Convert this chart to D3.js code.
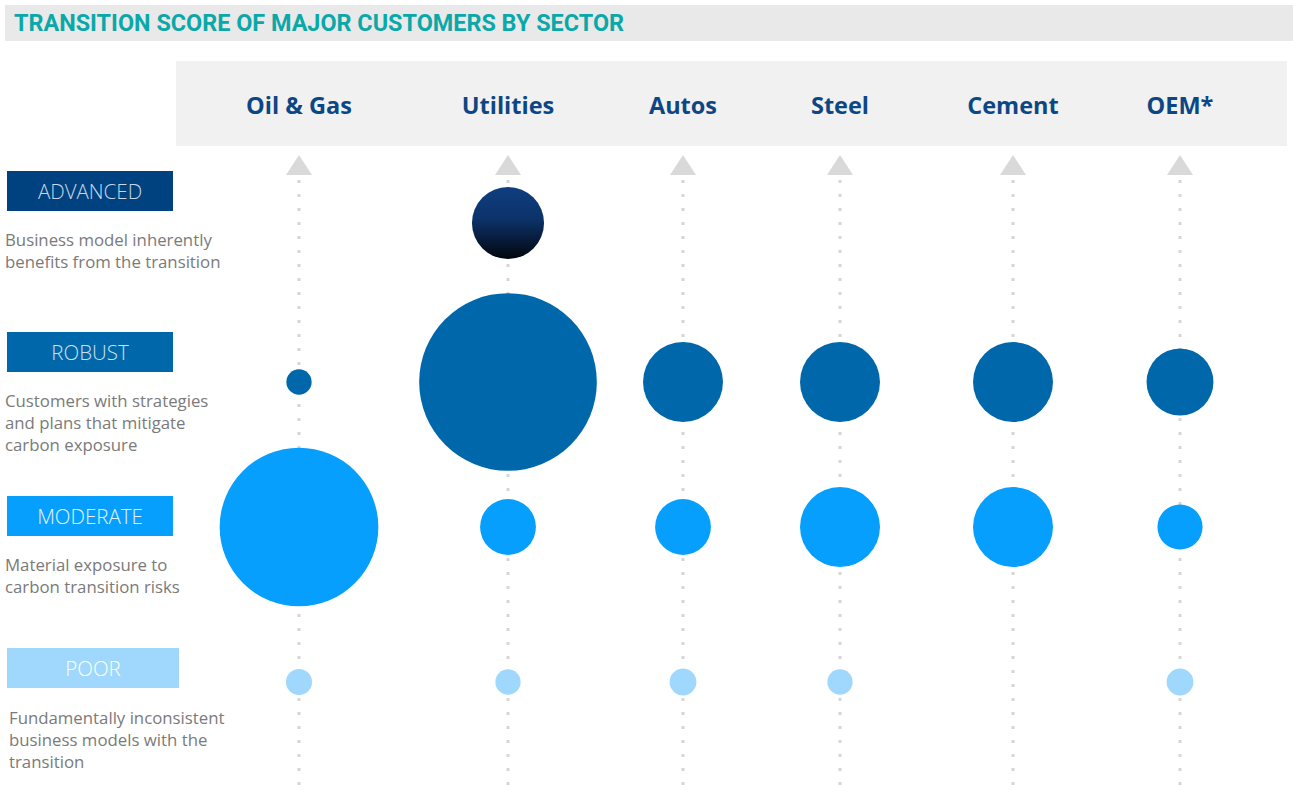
<!DOCTYPE html>
<html>
<head>
<meta charset="utf-8">
<script src="https://cdn.jsdelivr.net/npm/d3@7"></script>
<style>
  html, body { margin: 0; padding: 0; background: #ffffff; }
  svg { display: block; }
</style>
</head>
<body>
<svg id="chart" width="1293" height="791"></svg>
<script>
// ---------------- DATA ----------------
const title = "TRANSITION SCORE OF MAJOR CUSTOMERS BY SECTOR";
const sectors = ["Oil & Gas", "Utilities", "Autos", "Steel", "Cement", "OEM*"];
const levels = ["ADVANCED", "ROBUST", "MODERATE", "POOR"];
const levelDescriptions = [
  ["Business model inherently", "benefits from the transition"],
  ["Customers with strategies", "and plans that mitigate", "carbon exposure"],
  ["Material exposure to", "carbon transition risks"],
  ["Fundamentally inconsistent", "business models with the", "transition"]
];
// relative bubble weight per sector, one array per level (0 = no bubble)
const advancedValues = [0, 13, 0, 0, 0, 0];
const robustValues   = [1.6, 79, 16, 16, 16, 11.2];
const moderateValues = [63, 7.8, 7.8, 16, 16, 5.1];
const poorValues     = [1.7, 1.6, 1.8, 1.6, 0, 1.8];

// ---------------- LAYOUT / STYLE ----------------
const W = 1293, H = 791;
const svg = d3.select("#chart");
const levelFill = {
  ROBUST: "#0067ab",
  MODERATE: "#069ffd",
  POOR: "#a0d8fd"
};
const boxFill = ["#00427f", "#0067ab", "#069ffd", "#a0d8fd"];
const boxText = ["#c9d6e4", "#cfe1f0", "#e4f4ff", "#ffffff"];

const x = d3.scaleOrdinal().domain(sectors).range([299, 508, 683, 840, 1013, 1180]);
const y = d3.scaleOrdinal().domain(levels).range([223, 382, 527, 682]);
const r = d3.scaleSqrt().domain([0, 80]).range([0, 89.4]);

const defs = svg.append("defs");
const grad = defs.append("linearGradient").attr("id", "advGrad")
  .attr("x1", 0).attr("y1", 0).attr("x2", 0).attr("y2", 1);
grad.append("stop").attr("offset", "0%").attr("stop-color", "#0f3f80");
grad.append("stop").attr("offset", "45%").attr("stop-color", "#0c3269");
grad.append("stop").attr("offset", "100%").attr("stop-color", "#02060c");

// title band
svg.append("rect").attr("x", 5).attr("y", 5).attr("width", W - 5).attr("height", 36).attr("fill", "#e9e9e9");
svg.append("text").attr("x", 14).attr("y", 31)
  .attr("font-family", "Roboto, 'Open Sans', sans-serif").attr("font-weight", 700)
  .attr("font-size", 23.4).attr("fill", "#0aa8a8").text(title);

// header band
svg.append("rect").attr("x", 176).attr("y", 61).attr("width", 1111).attr("height", 85).attr("fill", "#f1f1f1");
svg.append("g").selectAll("text").data(sectors).join("text")
  .attr("x", d => x(d)).attr("y", 114)
  .attr("text-anchor", "middle")
  .attr("font-family", "'Open Sans', sans-serif").attr("font-weight", 700)
  .attr("font-size", 23.5).attr("fill", "#0d4783")
  .text(d => d);

// dotted axes and arrows
const axes = svg.append("g");
sectors.forEach(s => {
  const cx = x(s);
  axes.append("path")
    .attr("d", `M${cx - 13},175 L${cx + 13},175 L${cx},155 Z`)
    .attr("fill", "#d9d9d9");
  axes.append("line")
    .attr("x1", cx).attr("x2", cx).attr("y1", 180).attr("y2", H)
    .attr("stroke", "#d6d6d6").attr("stroke-width", 3)
    .attr("stroke-dasharray", "3 11");
});

// bubbles
const valuesByLevel = [advancedValues, robustValues, moderateValues, poorValues];
const bubbles = [];
levels.forEach((lv, i) => {
  sectors.forEach((s, j) => {
    const v = valuesByLevel[i][j];
    if (v > 0) bubbles.push({ level: lv, sector: s, value: v });
  });
});
svg.append("g").selectAll("circle").data(bubbles).join("circle")
  .attr("cx", d => x(d.sector))
  .attr("cy", d => y(d.level))
  .attr("r", d => r(d.value))
  .attr("fill", d => d.level === "ADVANCED" ? "url(#advGrad)" : levelFill[d.level]);

// left legend
const boxY = [171, 332, 496, 648];
const boxW = [166, 166, 166, 172];
const legend = svg.append("g");
levels.forEach((lv, i) => {
  const g = legend.append("g").attr("transform", `translate(0,${boxY[i]})`);
  g.append("rect").attr("x", 7).attr("y", 0).attr("width", boxW[i]).attr("height", 40).attr("fill", boxFill[i]);
  g.append("text").attr("x", 7 + boxW[i] / 2).attr("y", 28)
    .attr("text-anchor", "middle")
    .attr("font-family", "'Open Sans', sans-serif").attr("font-weight", 300)
    .attr("font-size", 20.5).attr("fill", boxText[i]).text(lv);
  const descTop = i === 3 ? 76 : 75;
  const descX = i === 3 ? 9 : 5;
  g.append("g").selectAll("text").data(levelDescriptions[i]).join("text")
    .attr("x", descX).attr("y", (d, k) => descTop + k * 22)
    .attr("font-family", "'Open Sans', sans-serif").attr("font-weight", 400)
    .attr("font-size", 16.8).attr("fill", "#7a7a7a").text(d => d);
});
</script>
</body>
</html>
